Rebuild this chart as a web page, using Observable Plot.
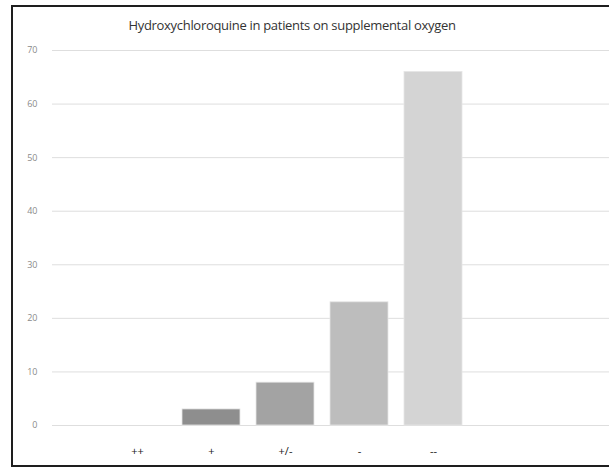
<!DOCTYPE html>
<html>
<head>
<meta charset="utf-8">
<script src="https://cdn.jsdelivr.net/npm/d3@7"></script>
<script src="https://cdn.jsdelivr.net/npm/@observablehq/plot@0.6"></script>
<style>
  html, body { margin: 0; padding: 0; background: #fff; overflow: hidden; }
  #page { position: relative; width: 609px; height: 468px; overflow: hidden; }
  #frame { position: absolute; left: 11px; top: 5px; width: 620px; height: 458px;
           border: 2px solid #1e1e1e; border-right: none; }
  #title { position: absolute; left: 0; width: 584px; top: 16px; text-align: center;
           font-family: "Open Sans", "Liberation Sans", sans-serif; font-size: 13px; color: #333;
           letter-spacing: -0.3px; }
  #chart { position: absolute; left: 0; top: 0; }
</style>
</head>
<body>
<div id="page">
  <div id="frame"></div>
  <div id="title">Hydroxychloroquine in patients on supplemental oxygen</div>
  <div id="chart"></div>
</div>
<script>
const categories = ["++", "+", "+/-", "-", "--"];
const values = [0, 3, 8, 23, 66];
const barColors = ["#7f7f7f", "#8e8e8e", "#a3a3a3", "#bdbdbd", "#d4d4d4"];
const yTicks = [0, 10, 20, 30, 40, 50, 60, 70];

const data = categories.map((c, i) => ({cat: c, value: values[i], color: barColors[i]}));

const chart = Plot.plot({
  width: 609,
  height: 468,
  marginLeft: 52,
  marginRight: 0,
  marginTop: 50,
  marginBottom: 43,
  style: {background: "transparent", fontFamily: "'Open Sans', 'Liberation Sans', sans-serif"},
  x: {domain: categories, range: [98, 472], paddingInner: 0.216, paddingOuter: 0.108, label: null},
  y: {domain: [0, 70], label: null},
  marks: [
    Plot.ruleY(yTicks, {stroke: "#dedede", strokeWidth: 1}),
    Plot.barY(data, {x: "cat", y: "value", fill: "color", stroke: "#e6e6e6", strokeWidth: 0.8}),
    Plot.axisY(yTicks, {tickSize: 0, tickPadding: 15, fontSize: 9, fill: "#8a8a8a", label: null}),
    Plot.axisX({tickSize: 0, tickPadding: 22, fontSize: 11, fill: "#222", label: null})
  ]
});
document.getElementById("chart").appendChild(chart);
</script>
</body>
</html>
